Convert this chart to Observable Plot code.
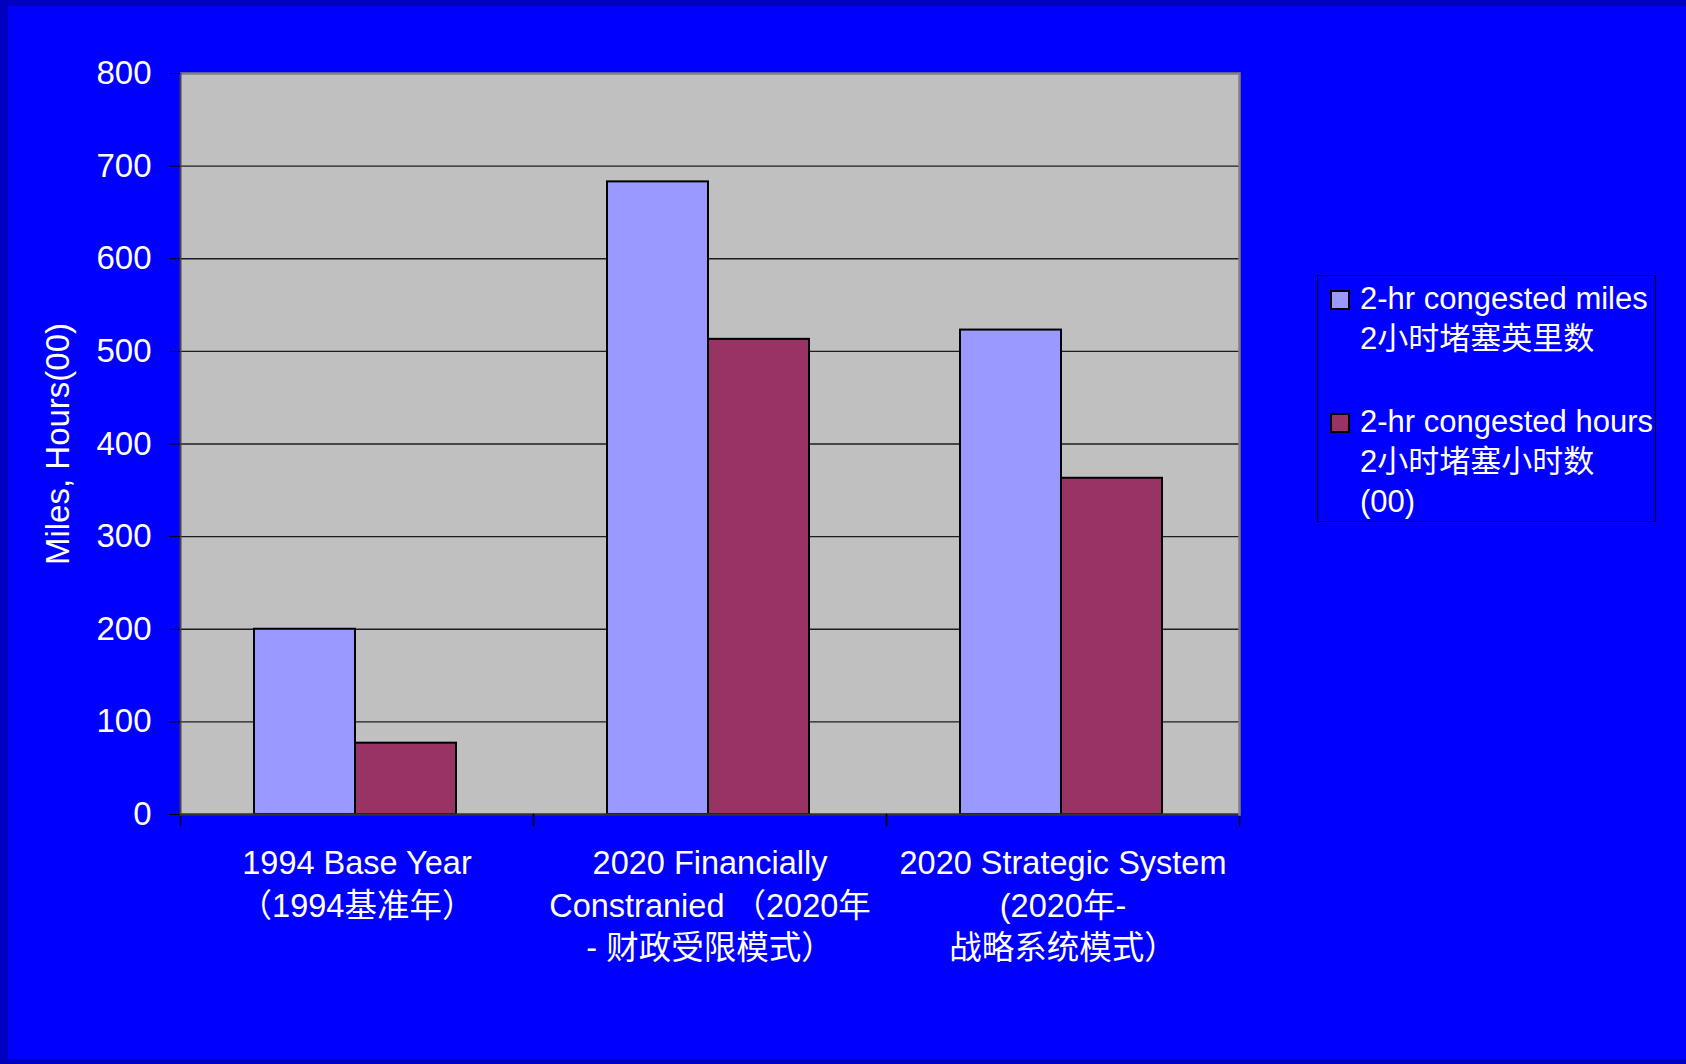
<!DOCTYPE html>
<html>
<head>
<meta charset="utf-8">
<script src="https://cdn.jsdelivr.net/npm/d3@7"></script>
<script src="https://cdn.jsdelivr.net/npm/@observablehq/plot@0.6"></script>
<style>
  html, body { margin: 0; padding: 0; }
  body { position: relative; width: 1686px; height: 1064px; background: #0000C0; overflow: hidden;
         font-family: "Liberation Sans", Arial, "Noto Sans CJK SC", sans-serif; }
  #bg { position: absolute; left: 8px; top: 6px; width: 1678px; height: 1053px; background: #0000FF; }
  #chart { position: absolute; left: 0; top: 0; }
  #legend { position: absolute; left: 1317px; top: 275px; width: 339px; height: 247px;
            border: 1.5px solid #000; box-sizing: border-box; color: #fff; font-size: 31px; line-height: 40px;
            padding-top: 3px; }
  .item { position: relative; padding-left: 42px; white-space: pre; }
  .item + .item { margin-top: 43px; }
  .item span { display: block; }
  .sw { position: absolute; left: 12px; top: 11px; width: 16px; height: 16px; border: 2px solid #000; }
</style>
</head>
<body>
<div id="bg"></div>
<div id="chart"></div>
<div id="legend"></div>
<script>
// ---- data ----
const categories = [
  "1994 Base Year\n（1994基准年）",
  "2020 Financially\nConstranied （2020年\n- 财政受限模式）",
  "2020 Strategic System\n(2020年-\n战略系统模式）"
];
const seriesNames = [
  "2-hr congested miles\n2小时堵塞英里数",
  "2-hr congested hours\n2小时堵塞小时数\n(00)"
];
const milesValues = [200, 683, 523];
const hoursValues = [77, 513, 363];
const yTicks = [0, 100, 200, 300, 400, 500, 600, 700, 800];
const yLabel = "Miles, Hours(00)";
const seriesColors = ["#9999FF", "#993366"];

const rows = [];
categories.forEach((c, i) => {
  rows.push({category: c, series: seriesNames[0], value: milesValues[i]});
  rows.push({category: c, series: seriesNames[1], value: hoursValues[i]});
});

const font = '"Liberation Sans", Arial, "Noto Sans CJK SC", sans-serif';

const chart = Plot.plot({
  width: 1260,
  height: 1000,
  marginLeft: 180,
  marginTop: 73,
  marginRight: 21,
  marginBottom: 186,
  style: {background: "transparent", color: "#fff", fontFamily: font, fontSize: "33px", overflow: "visible"},
  fx: {domain: categories, padding: 0, label: null},
  x: {domain: seriesNames, paddingInner: 0, paddingOuter: 0.74, align: 0.49, axis: null},
  y: {domain: [0, 800], label: null},
  color: {domain: seriesNames, range: seriesColors},
  marks: [
    Plot.frame({facet: "super", fill: "#C0C0C0", stroke: null}),
    Plot.gridY({ticks: yTicks.slice(1, -1), stroke: "#000", strokeOpacity: 0.85, strokeWidth: 1.3}),
    Plot.ruleY([800], {stroke: "#808080", strokeWidth: 2.5}),
    Plot.barY(rows, {fx: "category", x: "series", y: "value", fill: "series", stroke: "#000", strokeWidth: 2}),
    Plot.ruleY([0], {stroke: "#333", strokeWidth: 2.5}),
    Plot.frame({anchor: "left", insetTop: 741, insetBottom: -11, stroke: "#000", strokeWidth: 1.3}),
    Plot.frame({anchor: "right", insetTop: 741, insetBottom: -11, stroke: "#000", strokeWidth: 1.3}),
    Plot.frame({facet: "super", anchor: "right", stroke: "#808080", strokeWidth: 2.5}),
    Plot.frame({facet: "super", anchor: "left", stroke: "#444", strokeWidth: 2}),
    Plot.axisY({ticks: yTicks, tickSize: 11, tickPadding: 18, stroke: "#000", fill: "#fff", fontSize: 33,
                label: yLabel, labelArrow: "none", labelAnchor: "center", labelOffset: 135}),
    Plot.axisFx({anchor: "bottom", tickSize: 0, tickPadding: 30, fontSize: 32.5, lineHeight: 1.3,
                 fill: "#fff", label: null})
  ]
});
document.getElementById("chart").appendChild(chart);

// ---- legend (HTML, built from the same arrays) ----
const legend = d3.select("#legend");
seriesNames.forEach((name, i) => {
  const item = legend.append("div").attr("class", "item");
  item.append("div").attr("class", "sw").style("background", seriesColors[i]);
  item.append("span").text(name);
});
</script>
</body>
</html>
